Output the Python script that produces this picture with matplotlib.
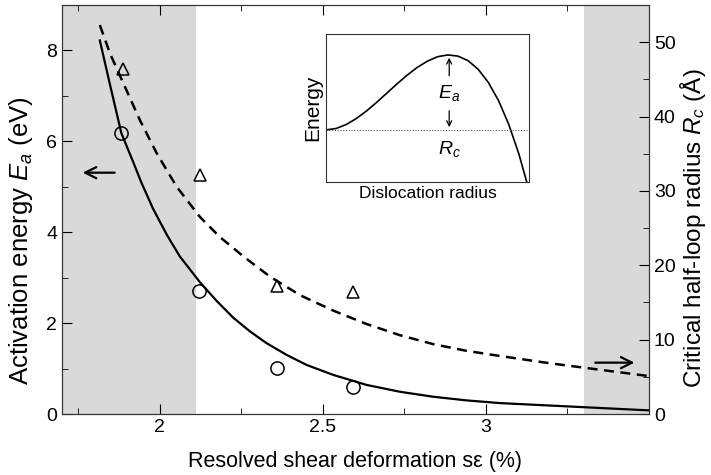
import matplotlib.pyplot as plt
from matplotlib.ticker import MultipleLocator

plt.rcParams['font.family'] = ['Liberation Sans', 'DejaVu Sans']
plt.rcParams['mathtext.fontset'] = 'custom'
plt.rcParams['mathtext.it'] = 'Liberation Sans:italic'
plt.rcParams['mathtext.rm'] = 'Liberation Sans'

ea_x = [1.816, 1.849, 1.882, 1.918, 1.943, 1.979, 2.021, 2.061, 2.123, 2.174, 2.225,
        2.276, 2.327, 2.389, 2.450, 2.532, 2.634, 2.736, 2.838, 2.940, 3.043, 3.3, 3.5]
ea_y = [8.22, 7.19, 6.18, 5.55, 5.10, 4.52, 3.95, 3.47, 2.90, 2.49, 2.12,
        1.82, 1.56, 1.30, 1.08, 0.86, 0.64, 0.49, 0.38, 0.30, 0.24, 0.15, 0.08]

rc_x = [1.816, 1.847, 1.893, 1.939, 1.990, 2.051, 2.123, 2.184, 2.256, 2.337, 2.429,
        2.532, 2.634, 2.736, 2.838, 2.940, 3.043, 3.2, 3.35, 3.5]
rc_y = [52.3, 48.5, 44.0, 39.5, 35.1, 30.6, 26.5, 23.8, 21.2, 18.5, 16.0,
        13.9, 12.1, 10.6, 9.4, 8.5, 7.8, 6.8, 5.95, 5.1]

circ_x = [1.882, 2.120, 2.358, 2.593]
circ_y = [6.18, 2.71, 1.02, 0.60]

tri_x = [1.886, 2.123, 2.358, 2.593]
tri_y = [46.4, 32.2, 17.2, 16.4]

# inset schematic (normalised units)
ins_x = [0, 0.05, 0.1, 0.15, 0.2, 0.25, 0.3, 0.35, 0.4, 0.45, 0.5,
         0.55, 0.6, 0.65, 0.7, 0.75, 0.8, 0.85, 0.9, 0.95, 1.0]
ins_y = [0.351, 0.361, 0.388, 0.429, 0.480, 0.539, 0.601, 0.664, 0.723, 0.776, 0.818,
         0.848, 0.860, 0.852, 0.821, 0.762, 0.673, 0.550, 0.390, 0.189, -0.056]
ins_base = 0.351
ins_peak = 0.860
ins_rc = 0.607

shade = [(1.7, 2.11), (3.3, 3.5)]

fig = plt.figure(figsize=(7.11, 4.75), dpi=100)
ax = fig.add_axes([0.0872, 0.1284, 0.8256, 0.8611])
for a, b in shade:
    ax.axvspan(a, b, color='#d9d9d9', lw=0, zorder=0)

ax.plot(ea_x, ea_y, color='black', lw=1.6, zorder=3)
ax.plot(circ_x, circ_y, 'o', mfc='none', mec='black', ms=9.5, mew=1.1, zorder=4)

ax.set_xlim(1.7, 3.5)
ax.set_ylim(0, 9)
ax.xaxis.set_minor_locator(MultipleLocator(0.25))
ax.yaxis.set_major_locator(MultipleLocator(2))
ax.yaxis.set_minor_locator(MultipleLocator(1))
ax.set_xticks([2, 2.5, 3])
ax.set_xticklabels(['2', '2.5', '3'])
ax.tick_params(which='both', direction='in', top=True, labelsize=14)
ax.tick_params(which='major', length=7)
ax.tick_params(which='minor', length=4)
ax.set_xlabel('Resolved shear deformation s\u03b5 (%)', fontsize=15.5)
ax.set_ylabel('Activation energy $E_a$ (eV)', fontsize=18.5)
ax.xaxis.set_label_coords(0.5, -0.09)
ax.yaxis.set_label_coords(-0.046, 0.425)

ax.annotate('', xy=(1.755, 5.31), xytext=(1.870, 5.31),
            arrowprops=dict(arrowstyle='->', color='black', lw=1.6, mutation_scale=20))
ax.annotate('', xy=(3.464, 1.13), xytext=(3.327, 1.13),
            arrowprops=dict(arrowstyle='->', color='black', lw=1.6, mutation_scale=20))

ax2 = ax.twinx()
ax2.plot(rc_x, rc_y, color='black', lw=1.8, dashes=[4, 2.6], zorder=3)
ax2.plot(tri_x, tri_y, '^', mfc='none', mec='black', ms=8.5, mew=1.1, zorder=4)
ax2.set_ylim(0, 55)
ax2.yaxis.set_major_locator(MultipleLocator(10))
ax2.yaxis.set_minor_locator(MultipleLocator(5))
ax2.tick_params(which='both', direction='in', labelsize=14)
ax2.tick_params(which='major', length=7)
ax2.tick_params(which='minor', length=4)
ax2.set_ylabel('Critical half-loop radius $R_c$ (\u00c5)', fontsize=17.5)
ax2.yaxis.set_label_coords(1.05, 0.455)

for s in list(ax.spines.values()) + list(ax2.spines.values()):
    s.set_color('#333333')

# inset
ins = fig.add_axes([0.4585, 0.6175, 0.2855, 0.3103])
ins.plot(ins_x, ins_y, color='black', lw=1.2)
ins.axhline(ins_base, color='#555555', lw=0.8, ls=(0, (1, 1.5)))
ins.annotate('', xy=(ins_rc, ins_peak), xytext=(ins_rc, 0.70),
             arrowprops=dict(arrowstyle='->', color='black', lw=0.9, mutation_scale=9))
ins.annotate('', xy=(ins_rc, ins_base), xytext=(ins_rc, 0.50),
             arrowprops=dict(arrowstyle='->', color='black', lw=0.9, mutation_scale=9))
ins.text(ins_rc, 0.60, '$E_a$', ha='center', va='center', fontsize=14)
ins.text(ins_rc, 0.22, '$R_c$', ha='center', va='center', fontsize=14)
ins.set_xlim(0, 1)
ins.set_ylim(0, 1)
ins.set_xticks([])
ins.set_yticks([])
ins.set_xlabel('Dislocation radius', fontsize=12.5, labelpad=3)
ins.set_ylabel('Energy', fontsize=15, labelpad=3)
for s in ins.spines.values():
    s.set_color('#333333')

fig.savefig('out.png', dpi=100)
